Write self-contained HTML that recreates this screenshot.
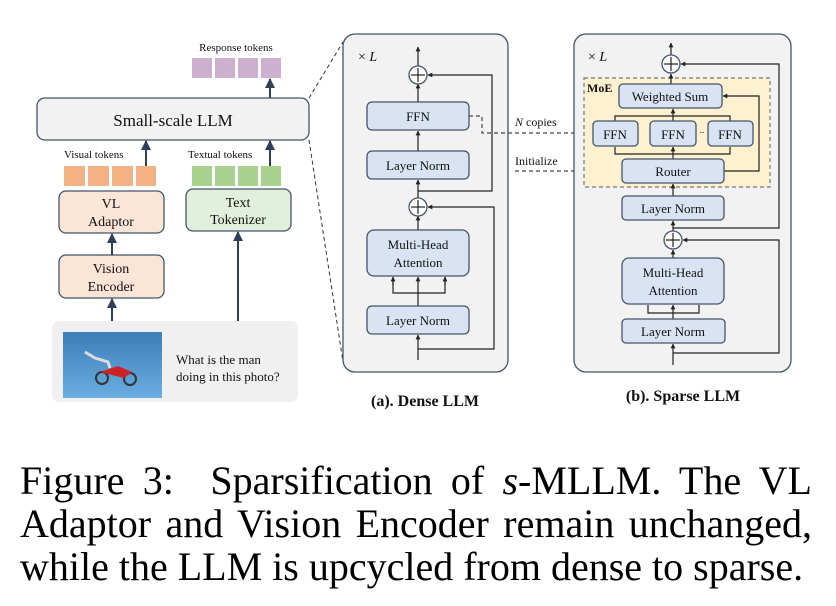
<!DOCTYPE html>
<html><head><meta charset="utf-8"><style>
html,body{margin:0;padding:0;background:#fff;width:836px;height:606px;overflow:hidden;position:relative}
svg{display:block}
text{font-family:"Liberation Serif",serif;fill:#111}
.cap{position:absolute;left:20px;top:459px;width:792px;font-family:"Liberation Serif",serif;font-size:40px;line-height:43px;color:#000}
.cap span{display:block;white-space:nowrap;text-align:justify;text-align-last:justify}
.cap span.l{text-align-last:left}
</style></head><body>
<svg width="836" height="606" viewBox="0 0 836 606" xmlns="http://www.w3.org/2000/svg">
<defs>
<marker id="a" viewBox="0 0 10 10" refX="9" refY="5" markerWidth="5" markerHeight="5" orient="auto"><path d="M0,0L10,5L0,10z" fill="#2f3e5a"/></marker>
<marker id="b" viewBox="0 0 10 10" refX="9" refY="5" markerWidth="4" markerHeight="4" orient="auto"><path d="M0,0L10,5L0,10z" fill="#222"/></marker>
<linearGradient id="sky" x1="0" y1="0" x2="0" y2="1"><stop offset="0" stop-color="#3d7db8"/><stop offset="1" stop-color="#6aaee0"/></linearGradient>
</defs>
<text x="236" y="51" font-size="11" text-anchor="middle">Response tokens</text>
<g fill="#cdb0d0"><rect x="192" y="58" width="20" height="20"/><rect x="215" y="58" width="20" height="20"/><rect x="238" y="58" width="20" height="20"/><rect x="261" y="58" width="20" height="20"/></g>
<line x1="270" y1="98" x2="270" y2="79" stroke="#2f3e5a" stroke-width="2" marker-end="url(#a)"/>
<rect x="37" y="98" width="272" height="42" rx="8" fill="#f2f2f2" stroke="#44546a" stroke-width="1.3"/>
<text x="173" y="126" font-size="17" text-anchor="middle">Small-scale LLM</text>
<line x1="309" y1="98" x2="343" y2="42" stroke="#333" stroke-dasharray="4,3"/>
<line x1="309" y1="140" x2="343" y2="362" stroke="#333" stroke-dasharray="4,3"/>
<text x="64" y="158" font-size="11">Visual tokens</text>
<text x="188" y="158" font-size="11">Textual tokens</text>
<line x1="146" y1="166" x2="146" y2="141" stroke="#2f3e5a" stroke-width="2" marker-end="url(#a)"/>
<line x1="270" y1="166" x2="270" y2="141" stroke="#2f3e5a" stroke-width="2" marker-end="url(#a)"/>
<g fill="#f4b183"><rect x="64" y="166" width="21" height="20"/><rect x="88" y="166" width="21" height="20"/><rect x="112" y="166" width="21" height="20"/><rect x="136" y="166" width="20" height="20"/></g>
<g fill="#a9d18e"><rect x="192" y="166" width="20" height="20"/><rect x="215" y="166" width="20" height="20"/><rect x="238" y="166" width="20" height="20"/><rect x="261" y="166" width="20" height="20"/></g>
<rect x="59" y="191" width="105" height="42" rx="7" fill="#fbe5d6" stroke="#44546a" stroke-width="1.3"/>
<text x="111" y="208" font-size="14" text-anchor="middle">VL</text>
<text x="111" y="226" font-size="14" text-anchor="middle">Adaptor</text>
<rect x="59" y="255" width="105" height="43" rx="7" fill="#fbe5d6" stroke="#44546a" stroke-width="1.3"/>
<text x="111" y="273" font-size="14" text-anchor="middle">Vision</text>
<text x="111" y="291" font-size="14" text-anchor="middle">Encoder</text>
<rect x="186" y="189" width="105" height="42" rx="7" fill="#e2efda" stroke="#44546a" stroke-width="1.3"/>
<text x="238" y="207" font-size="14" text-anchor="middle">Text</text>
<text x="238" y="224" font-size="14" text-anchor="middle">Tokenizer</text>
<line x1="112" y1="255" x2="112" y2="234" stroke="#2f3e5a" stroke-width="2" marker-end="url(#a)"/>
<line x1="112" y1="321" x2="112" y2="299" stroke="#2f3e5a" stroke-width="2" marker-end="url(#a)"/>
<line x1="238" y1="321" x2="238" y2="232" stroke="#2f3e5a" stroke-width="2" marker-end="url(#a)"/>
<rect x="52" y="321" width="246" height="81" rx="7" fill="#f0f0f0"/>
<rect x="63" y="332" width="99" height="66" fill="url(#sky)"/>
<g stroke="#333" stroke-width="2" fill="none"><circle cx="102" cy="378" r="6"/><circle cx="130" cy="379" r="6"/></g>
<path d="M100 372 L118 366 L132 372 L124 378 Z" fill="#c22"/>
<path d="M85 352 L95 358 L108 362 L110 368" stroke="#ddd" stroke-width="3" fill="none"/>
<text x="176" y="364" font-size="13">What is the man</text>
<text x="176" y="381" font-size="13">doing in this photo?</text>

<rect x="343" y="34" width="165" height="338" rx="12" fill="#f2f2f2" stroke="#44546a" stroke-width="1.3"/>
<text x="358" y="61" font-size="14">×<tspan font-style="italic"> L</tspan></text>
<g stroke="#222" stroke-width="1.2" fill="none">
<line x1="418" y1="66" x2="418" y2="47" marker-end="url(#b)"/>
<line x1="418" y1="102" x2="418" y2="84" marker-end="url(#b)"/>
<line x1="418" y1="151" x2="418" y2="131" marker-end="url(#b)"/>
<line x1="418" y1="198" x2="418" y2="180" marker-end="url(#b)"/>
<line x1="418" y1="230" x2="418" y2="216" marker-end="url(#b)"/>
<polyline points="418,191 492,191 492,75 428,75" marker-end="url(#b)"/>
<polyline points="418,349 494,349 494,207 428,207" marker-end="url(#b)"/>
<line x1="418" y1="360" x2="418" y2="335" marker-end="url(#b)"/>
<line x1="418" y1="306" x2="418" y2="277" marker-end="url(#b)"/>
<polyline points="393,277 393,293 445,293 445,277"/>
<line x1="393" y1="285" x2="393" y2="277" marker-end="url(#b)"/>
<line x1="445" y1="285" x2="445" y2="277" marker-end="url(#b)"/>
</g>
<g stroke="#44546a" stroke-width="1.3"><circle cx="418" cy="75" r="9" fill="#fff"/><circle cx="418" cy="207" r="9" fill="#fff"/></g>
<g stroke="#222" stroke-width="1.2"><line x1="411" y1="75" x2="425" y2="75"/><line x1="418" y1="68" x2="418" y2="82"/><line x1="411" y1="207" x2="425" y2="207"/><line x1="418" y1="200" x2="418" y2="214"/></g>
<g fill="#dae3f3" stroke="#44546a" stroke-width="1.3">
<rect x="367" y="102" width="102" height="28" rx="5"/>
<rect x="367" y="151" width="102" height="28" rx="5"/>
<rect x="367" y="230" width="102" height="46" rx="7"/>
<rect x="367" y="306" width="102" height="28" rx="5"/>
</g>
<text x="418" y="121" font-size="13" text-anchor="middle">FFN</text>
<text x="418" y="170" font-size="13" text-anchor="middle">Layer Norm</text>
<text x="418" y="249" font-size="13" text-anchor="middle">Multi-Head</text>
<text x="418" y="267" font-size="13" text-anchor="middle">Attention</text>
<text x="418" y="325" font-size="13" text-anchor="middle">Layer Norm</text>
<text x="425" y="406" font-size="16" font-weight="bold" text-anchor="middle">(a). Dense LLM</text>

<g stroke="#444" stroke-width="1.2" fill="none" stroke-dasharray="4,3">
<polyline points="469,116 482,116 482,133 592,133" marker-end="url(#b)"/>
<line x1="515" y1="171" x2="621" y2="171" marker-end="url(#b)"/>
</g>
<text x="515" y="126" font-size="12"><tspan font-style="italic">N</tspan> copies</text>
<text x="515" y="165" font-size="12">Initialize</text>

<rect x="574" y="34" width="217" height="338" rx="12" fill="#f2f2f2" stroke="#44546a" stroke-width="1.3"/>
<text x="588" y="61" font-size="14">×<tspan font-style="italic"> L</tspan></text>
<rect x="584" y="78" width="186" height="109" fill="#fdf1d0" stroke="#777" stroke-width="1.2" stroke-dasharray="4,3"/>
<text x="587" y="92" font-size="12" font-weight="bold">MoE</text>
<g stroke="#222" stroke-width="1.2" fill="none">
<line x1="671" y1="55" x2="671" y2="43" marker-end="url(#b)"/>
<line x1="671" y1="84" x2="671" y2="74" marker-end="url(#b)"/>
<polyline points="673,228 779,228 779,64 681,64" marker-end="url(#b)"/>
<polyline points="673,353 779,353 779,240 683,240" marker-end="url(#b)"/>
<line x1="673" y1="365" x2="673" y2="344" marker-end="url(#b)"/>
<line x1="673" y1="319" x2="673" y2="305" marker-end="url(#b)"/>
<polyline points="648,305 648,313 699,313 699,305"/>
<line x1="673" y1="258" x2="673" y2="250" marker-end="url(#b)"/>
<line x1="673" y1="231" x2="673" y2="221" marker-end="url(#b)"/>
<line x1="673" y1="196" x2="673" y2="184" marker-end="url(#b)"/>
<line x1="673" y1="159" x2="673" y2="147" marker-end="url(#b)"/>
<polyline points="615,147 615,154 730,154 730,147"/>
<polyline points="615,121 615,116 730,116 730,121"/>
<line x1="673" y1="121" x2="673" y2="109" marker-end="url(#b)"/>
<polyline points="724,171 759,171 759,96 723,96" marker-end="url(#b)"/>
</g>
<g fill="#fff" stroke="#44546a" stroke-width="1.3"><circle cx="671" cy="64" r="9"/><circle cx="673" cy="240" r="9"/></g>
<g stroke="#222" stroke-width="1.2"><line x1="664" y1="64" x2="678" y2="64"/><line x1="671" y1="57" x2="671" y2="71"/><line x1="666" y1="240" x2="680" y2="240"/><line x1="673" y1="233" x2="673" y2="247"/></g>
<g fill="#dae3f3" stroke="#44546a" stroke-width="1.3">
<rect x="619" y="84" width="103" height="24" rx="4"/>
<rect x="593" y="121" width="45" height="25" rx="4"/>
<rect x="650" y="121" width="46" height="25" rx="4"/>
<rect x="708" y="121" width="45" height="25" rx="4"/>
<rect x="622" y="159" width="102" height="24" rx="4"/>
<rect x="622" y="196" width="102" height="24" rx="4"/>
<rect x="622" y="258" width="102" height="46" rx="7"/>
<rect x="622" y="319" width="103" height="24" rx="4"/>
</g>
<text x="670" y="101" font-size="13" text-anchor="middle">Weighted Sum</text>
<text x="615" y="139" font-size="13" text-anchor="middle">FFN</text>
<text x="673" y="139" font-size="13" text-anchor="middle">FFN</text>
<text x="730" y="139" font-size="13" text-anchor="middle">FFN</text>
<text x="702" y="133" font-size="9" text-anchor="middle">..</text>
<text x="673" y="176" font-size="13" text-anchor="middle">Router</text>
<text x="673" y="213" font-size="13" text-anchor="middle">Layer Norm</text>
<text x="673" y="277" font-size="13" text-anchor="middle">Multi-Head</text>
<text x="673" y="295" font-size="13" text-anchor="middle">Attention</text>
<text x="673" y="336" font-size="13" text-anchor="middle">Layer Norm</text>
<text x="683" y="401" font-size="16" font-weight="bold" text-anchor="middle">(b). Sparse LLM</text>
</svg>
<div class="cap"><span>Figure 3:&nbsp; Sparsification of <i>s</i>-MLLM. The VL</span><span>Adaptor and Vision Encoder remain unchanged,</span><span class="l">while the LLM is upcycled from dense to sparse.</span></div>
</body></html>
